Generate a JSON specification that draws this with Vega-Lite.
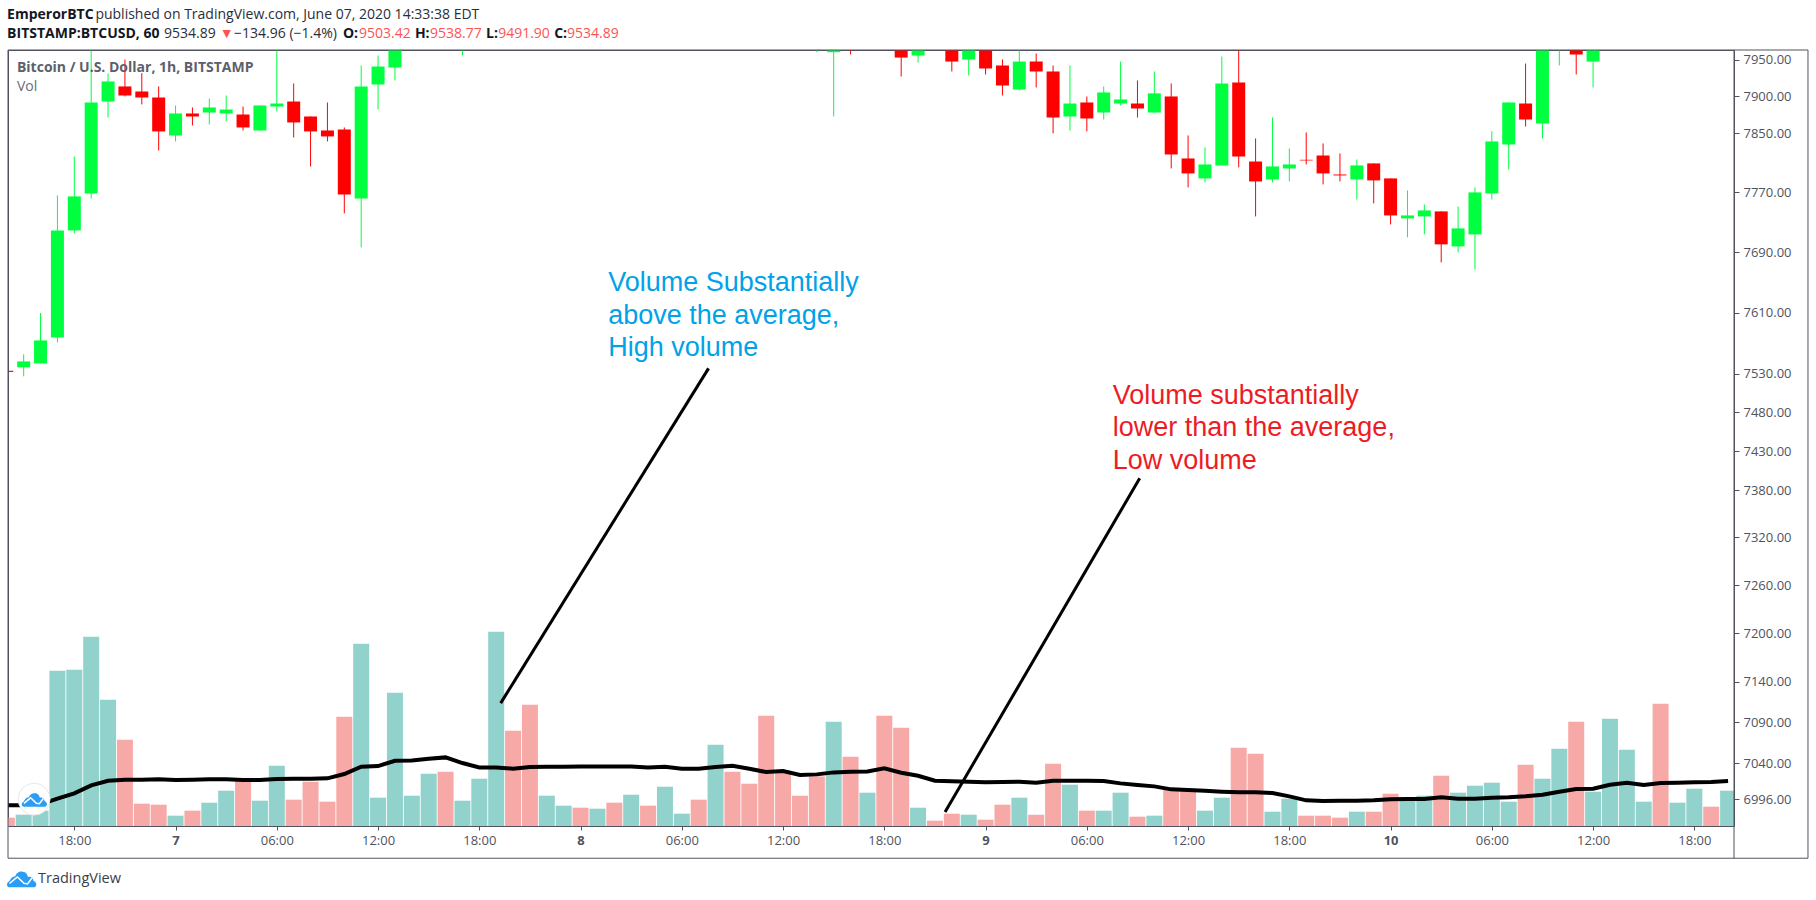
{
  "$schema": "https://vega.github.io/schema/vega-lite/v6.json",
  "autosize": {"type": "none"},
  "padding": {"left": 8, "top": 50, "right": 82, "bottom": 74},
  "width": 1726,
  "height": 776,
  "background": "white",
  "view": {"stroke": "#50535e", "strokeWidth": 1},
  "config": {"font": "Open Sans", "axis": {"grid": false, "title": null}},
  "datasets": {
    "volume": [
      {"time":"2020-06-06T14:00Z","volume":25,"ma":62,"dir":"down"},
      {"time":"2020-06-06T15:00Z","volume":34,"ma":62,"dir":"up"},
      {"time":"2020-06-06T16:00Z","volume":46,"ma":65,"dir":"up"},
      {"time":"2020-06-06T17:00Z","volume":466,"ma":82,"dir":"up"},
      {"time":"2020-06-06T18:00Z","volume":469,"ma":98,"dir":"up"},
      {"time":"2020-06-06T19:00Z","volume":568,"ma":122,"dir":"up"},
      {"time":"2020-06-06T20:00Z","volume":379,"ma":136,"dir":"up"},
      {"time":"2020-06-06T21:00Z","volume":259,"ma":139,"dir":"down"},
      {"time":"2020-06-06T22:00Z","volume":67,"ma":139,"dir":"down"},
      {"time":"2020-06-06T23:00Z","volume":64,"ma":140,"dir":"down"},
      {"time":"2020-06-07T00:00Z","volume":31,"ma":138,"dir":"up"},
      {"time":"2020-06-07T01:00Z","volume":46,"ma":139,"dir":"down"},
      {"time":"2020-06-07T02:00Z","volume":70,"ma":140,"dir":"up"},
      {"time":"2020-06-07T03:00Z","volume":106,"ma":140,"dir":"up"},
      {"time":"2020-06-07T04:00Z","volume":139,"ma":138,"dir":"down"},
      {"time":"2020-06-07T05:00Z","volume":76,"ma":138,"dir":"up"},
      {"time":"2020-06-07T06:00Z","volume":181,"ma":141,"dir":"up"},
      {"time":"2020-06-07T07:00Z","volume":79,"ma":142,"dir":"down"},
      {"time":"2020-06-07T08:00Z","volume":133,"ma":142,"dir":"down"},
      {"time":"2020-06-07T09:00Z","volume":73,"ma":143,"dir":"down"},
      {"time":"2020-06-07T10:00Z","volume":328,"ma":156,"dir":"down"},
      {"time":"2020-06-07T11:00Z","volume":547,"ma":178,"dir":"up"},
      {"time":"2020-06-07T12:00Z","volume":85,"ma":180,"dir":"up"},
      {"time":"2020-06-07T13:00Z","volume":400,"ma":196,"dir":"up"},
      {"time":"2020-06-07T14:00Z","volume":91,"ma":197,"dir":"up"},
      {"time":"2020-06-07T15:00Z","volume":157,"ma":202,"dir":"up"},
      {"time":"2020-06-07T16:00Z","volume":163,"ma":206,"dir":"down"},
      {"time":"2020-06-07T17:00Z","volume":76,"ma":189,"dir":"up"},
      {"time":"2020-06-07T18:00Z","volume":142,"ma":176,"dir":"up"},
      {"time":"2020-06-07T19:00Z","volume":583,"ma":176,"dir":"up"},
      {"time":"2020-06-07T20:00Z","volume":286,"ma":172,"dir":"down"},
      {"time":"2020-06-07T21:00Z","volume":364,"ma":177,"dir":"down"},
      {"time":"2020-06-07T22:00Z","volume":91,"ma":178,"dir":"up"},
      {"time":"2020-06-07T23:00Z","volume":61,"ma":178,"dir":"up"},
      {"time":"2020-06-08T00:00Z","volume":55,"ma":179,"dir":"down"},
      {"time":"2020-06-08T01:00Z","volume":52,"ma":179,"dir":"up"},
      {"time":"2020-06-08T02:00Z","volume":70,"ma":179,"dir":"down"},
      {"time":"2020-06-08T03:00Z","volume":94,"ma":179,"dir":"up"},
      {"time":"2020-06-08T04:00Z","volume":61,"ma":176,"dir":"down"},
      {"time":"2020-06-08T05:00Z","volume":118,"ma":178,"dir":"up"},
      {"time":"2020-06-08T06:00Z","volume":37,"ma":172,"dir":"up"},
      {"time":"2020-06-08T07:00Z","volume":79,"ma":172,"dir":"down"},
      {"time":"2020-06-08T08:00Z","volume":244,"ma":177,"dir":"up"},
      {"time":"2020-06-08T09:00Z","volume":163,"ma":181,"dir":"down"},
      {"time":"2020-06-08T10:00Z","volume":127,"ma":172,"dir":"down"},
      {"time":"2020-06-08T11:00Z","volume":331,"ma":162,"dir":"down"},
      {"time":"2020-06-08T12:00Z","volume":161,"ma":165,"dir":"down"},
      {"time":"2020-06-08T13:00Z","volume":91,"ma":153,"dir":"down"},
      {"time":"2020-06-08T14:00Z","volume":149,"ma":155,"dir":"down"},
      {"time":"2020-06-08T15:00Z","volume":313,"ma":161,"dir":"up"},
      {"time":"2020-06-08T16:00Z","volume":208,"ma":163,"dir":"down"},
      {"time":"2020-06-08T17:00Z","volume":100,"ma":164,"dir":"up"},
      {"time":"2020-06-08T18:00Z","volume":331,"ma":173,"dir":"down"},
      {"time":"2020-06-08T19:00Z","volume":295,"ma":160,"dir":"down"},
      {"time":"2020-06-08T20:00Z","volume":55,"ma":151,"dir":"up"},
      {"time":"2020-06-08T21:00Z","volume":16,"ma":136,"dir":"down"},
      {"time":"2020-06-08T22:00Z","volume":37,"ma":134,"dir":"down"},
      {"time":"2020-06-08T23:00Z","volume":34,"ma":133,"dir":"up"},
      {"time":"2020-06-09T00:00Z","volume":19,"ma":131,"dir":"down"},
      {"time":"2020-06-09T01:00Z","volume":64,"ma":132,"dir":"down"},
      {"time":"2020-06-09T02:00Z","volume":85,"ma":133,"dir":"up"},
      {"time":"2020-06-09T03:00Z","volume":34,"ma":130,"dir":"down"},
      {"time":"2020-06-09T04:00Z","volume":187,"ma":136,"dir":"down"},
      {"time":"2020-06-09T05:00Z","volume":124,"ma":136,"dir":"up"},
      {"time":"2020-06-09T06:00Z","volume":46,"ma":136,"dir":"down"},
      {"time":"2020-06-09T07:00Z","volume":46,"ma":135,"dir":"up"},
      {"time":"2020-06-09T08:00Z","volume":100,"ma":128,"dir":"up"},
      {"time":"2020-06-09T09:00Z","volume":28,"ma":123,"dir":"down"},
      {"time":"2020-06-09T10:00Z","volume":31,"ma":119,"dir":"up"},
      {"time":"2020-06-09T11:00Z","volume":109,"ma":110,"dir":"down"},
      {"time":"2020-06-09T12:00Z","volume":109,"ma":108,"dir":"down"},
      {"time":"2020-06-09T13:00Z","volume":46,"ma":106,"dir":"up"},
      {"time":"2020-06-09T14:00Z","volume":85,"ma":103,"dir":"up"},
      {"time":"2020-06-09T15:00Z","volume":235,"ma":101,"dir":"down"},
      {"time":"2020-06-09T16:00Z","volume":217,"ma":101,"dir":"down"},
      {"time":"2020-06-09T17:00Z","volume":43,"ma":99,"dir":"up"},
      {"time":"2020-06-09T18:00Z","volume":82,"ma":89,"dir":"up"},
      {"time":"2020-06-09T19:00Z","volume":31,"ma":77,"dir":"down"},
      {"time":"2020-06-09T20:00Z","volume":31,"ma":75,"dir":"down"},
      {"time":"2020-06-09T21:00Z","volume":25,"ma":76,"dir":"down"},
      {"time":"2020-06-09T22:00Z","volume":43,"ma":76,"dir":"up"},
      {"time":"2020-06-09T23:00Z","volume":43,"ma":77,"dir":"down"},
      {"time":"2020-06-10T00:00Z","volume":97,"ma":80,"dir":"down"},
      {"time":"2020-06-10T01:00Z","volume":82,"ma":81,"dir":"up"},
      {"time":"2020-06-10T02:00Z","volume":91,"ma":81,"dir":"up"},
      {"time":"2020-06-10T03:00Z","volume":151,"ma":86,"dir":"down"},
      {"time":"2020-06-10T04:00Z","volume":100,"ma":82,"dir":"up"},
      {"time":"2020-06-10T05:00Z","volume":121,"ma":82,"dir":"up"},
      {"time":"2020-06-10T06:00Z","volume":130,"ma":85,"dir":"up"},
      {"time":"2020-06-10T07:00Z","volume":73,"ma":86,"dir":"up"},
      {"time":"2020-06-10T08:00Z","volume":184,"ma":89,"dir":"down"},
      {"time":"2020-06-10T09:00Z","volume":142,"ma":94,"dir":"up"},
      {"time":"2020-06-10T10:00Z","volume":232,"ma":103,"dir":"up"},
      {"time":"2020-06-10T11:00Z","volume":313,"ma":111,"dir":"down"},
      {"time":"2020-06-10T12:00Z","volume":103,"ma":112,"dir":"up"},
      {"time":"2020-06-10T13:00Z","volume":322,"ma":124,"dir":"up"},
      {"time":"2020-06-10T14:00Z","volume":229,"ma":130,"dir":"up"},
      {"time":"2020-06-10T15:00Z","volume":73,"ma":123,"dir":"up"},
      {"time":"2020-06-10T16:00Z","volume":367,"ma":129,"dir":"down"},
      {"time":"2020-06-10T17:00Z","volume":70,"ma":130,"dir":"up"},
      {"time":"2020-06-10T18:00Z","volume":112,"ma":131,"dir":"up"},
      {"time":"2020-06-10T19:00Z","volume":58,"ma":132,"dir":"down"},
      {"time":"2020-06-10T20:00Z","volume":106,"ma":135,"dir":"up"}
    ],
    "candles": [
      {"time":"2020-06-06T14:00Z","open":7534,"high":7534,"low":7532.5,"close":7532.5,"dir":"down"},
      {"time":"2020-06-06T15:00Z","open":7538.5,"high":7555.4,"low":7526.8,"close":7546.2,"dir":"up"},
      {"time":"2020-06-06T16:00Z","open":7543.6,"high":7609.6,"low":7543.6,"close":7573.6,"dir":"up"},
      {"time":"2020-06-06T17:00Z","open":7577.6,"high":7765.8,"low":7571,"close":7719,"dir":"up"},
      {"time":"2020-06-06T18:00Z","open":7719,"high":7818.3,"low":7715,"close":7764.5,"dir":"up"},
      {"time":"2020-06-06T19:00Z","open":7768.5,"high":7985,"low":7761.8,"close":7891.6,"dir":"up"},
      {"time":"2020-06-06T20:00Z","open":7892.9,"high":7931.2,"low":7871.1,"close":7920.3,"dir":"up"},
      {"time":"2020-06-06T21:00Z","open":7913.5,"high":7950.4,"low":7899.8,"close":7901.1,"dir":"down"},
      {"time":"2020-06-06T22:00Z","open":7906.6,"high":7931.7,"low":7888.9,"close":7898.4,"dir":"down"},
      {"time":"2020-06-06T23:00Z","open":7898.4,"high":7913.5,"low":7826.4,"close":7852.2,"dir":"down"},
      {"time":"2020-06-07T00:00Z","open":7846.7,"high":7887.5,"low":7838.6,"close":7876.6,"dir":"up"},
      {"time":"2020-06-07T01:00Z","open":7876.6,"high":7884.8,"low":7860.3,"close":7872.5,"dir":"down"},
      {"time":"2020-06-07T02:00Z","open":7877.9,"high":7897,"low":7861.7,"close":7884.8,"dir":"up"},
      {"time":"2020-06-07T03:00Z","open":7876.6,"high":7901.1,"low":7865.7,"close":7882,"dir":"up"},
      {"time":"2020-06-07T04:00Z","open":7875.2,"high":7886.1,"low":7853.5,"close":7857.6,"dir":"down"},
      {"time":"2020-06-07T05:00Z","open":7853.5,"high":7887.5,"low":7853.5,"close":7887.5,"dir":"up"},
      {"time":"2020-06-07T06:00Z","open":7886.1,"high":7985,"low":7879.3,"close":7890.2,"dir":"up"},
      {"time":"2020-06-07T07:00Z","open":7892.9,"high":7917.6,"low":7844,"close":7864.4,"dir":"down"},
      {"time":"2020-06-07T08:00Z","open":7872.5,"high":7872.5,"low":7804.8,"close":7852.2,"dir":"down"},
      {"time":"2020-06-07T09:00Z","open":7853.5,"high":7891.6,"low":7838.6,"close":7845.4,"dir":"down"},
      {"time":"2020-06-07T10:00Z","open":7854.9,"high":7857.6,"low":7741.7,"close":7767.2,"dir":"down"},
      {"time":"2020-06-07T11:00Z","open":7761.8,"high":7942.2,"low":7696.4,"close":7913.5,"dir":"up"},
      {"time":"2020-06-07T12:00Z","open":7916.2,"high":7955.9,"low":7882,"close":7940.8,"dir":"up"},
      {"time":"2020-06-07T13:00Z","open":7939.4,"high":7990,"low":7921.7,"close":7975,"dir":"up"},
      {"time":"2020-06-07T17:00Z","open":7985,"high":8030,"low":7955.9,"close":8005,"dir":"up"},
      {"time":"2020-06-08T14:00Z","open":7985,"high":8000,"low":7960.5,"close":7995,"dir":"up"},
      {"time":"2020-06-08T15:00Z","open":7960.5,"high":7990,"low":7872.5,"close":7985,"dir":"up"},
      {"time":"2020-06-08T16:00Z","open":7985,"high":7990,"low":7957.3,"close":7975,"dir":"down"},
      {"time":"2020-06-08T19:00Z","open":7985,"high":7990,"low":7927.1,"close":7953.1,"dir":"down"},
      {"time":"2020-06-08T20:00Z","open":7955.9,"high":7990,"low":7946.3,"close":7985,"dir":"up"},
      {"time":"2020-06-08T22:00Z","open":7985,"high":7990,"low":7934,"close":7947.6,"dir":"down"},
      {"time":"2020-06-08T23:00Z","open":7950.4,"high":7990,"low":7928.5,"close":7985,"dir":"up"},
      {"time":"2020-06-09T00:00Z","open":7985,"high":7990,"low":7929.9,"close":7938.1,"dir":"down"},
      {"time":"2020-06-09T01:00Z","open":7942.2,"high":7950.4,"low":7901.1,"close":7914.8,"dir":"down"},
      {"time":"2020-06-09T02:00Z","open":7909.3,"high":7975,"low":7908,"close":7947.6,"dir":"up"},
      {"time":"2020-06-09T03:00Z","open":7947.6,"high":7958.7,"low":7912.1,"close":7934,"dir":"down"},
      {"time":"2020-06-09T04:00Z","open":7934,"high":7942.2,"low":7849.5,"close":7871.1,"dir":"down"},
      {"time":"2020-06-09T05:00Z","open":7872.5,"high":7942.2,"low":7853.5,"close":7890.2,"dir":"up"},
      {"time":"2020-06-09T06:00Z","open":7891.6,"high":7899.8,"low":7852.2,"close":7869.8,"dir":"down"},
      {"time":"2020-06-09T07:00Z","open":7877.9,"high":7913.5,"low":7868.4,"close":7905.3,"dir":"up"},
      {"time":"2020-06-09T08:00Z","open":7890.2,"high":7947.6,"low":7887.5,"close":7895.7,"dir":"up"},
      {"time":"2020-06-09T09:00Z","open":7890.2,"high":7921.7,"low":7871.1,"close":7883.4,"dir":"down"},
      {"time":"2020-06-09T10:00Z","open":7877.9,"high":7934,"low":7877.9,"close":7904,"dir":"up"},
      {"time":"2020-06-09T11:00Z","open":7899.8,"high":7917.6,"low":7802.1,"close":7821,"dir":"down"},
      {"time":"2020-06-09T12:00Z","open":7815.6,"high":7846.7,"low":7776.6,"close":7795.4,"dir":"down"},
      {"time":"2020-06-09T13:00Z","open":7788.7,"high":7830.5,"low":7783.3,"close":7807.5,"dir":"up"},
      {"time":"2020-06-09T14:00Z","open":7806.2,"high":7954.5,"low":7806.2,"close":7917.6,"dir":"up"},
      {"time":"2020-06-09T15:00Z","open":7918.9,"high":7975,"low":7803.5,"close":7818.3,"dir":"down"},
      {"time":"2020-06-09T16:00Z","open":7811.5,"high":7842.7,"low":7737.7,"close":7784.6,"dir":"down"},
      {"time":"2020-06-09T17:00Z","open":7787.3,"high":7871.1,"low":7783.3,"close":7804.8,"dir":"up"},
      {"time":"2020-06-09T18:00Z","open":7802.1,"high":7829.1,"low":7784.6,"close":7807.5,"dir":"up"},
      {"time":"2020-06-09T19:00Z","open":7813.8,"high":7850.8,"low":7807.5,"close":7812.9,"dir":"down"},
      {"time":"2020-06-09T20:00Z","open":7819.6,"high":7835.9,"low":7780.6,"close":7795.4,"dir":"down"},
      {"time":"2020-06-09T21:00Z","open":7794,"high":7822.4,"low":7784.6,"close":7792.7,"dir":"down"},
      {"time":"2020-06-09T22:00Z","open":7787.3,"high":7814.2,"low":7760.4,"close":7806.2,"dir":"up"},
      {"time":"2020-06-09T23:00Z","open":7808.9,"high":7808.9,"low":7755.1,"close":7786,"dir":"down"},
      {"time":"2020-06-10T00:00Z","open":7788.7,"high":7788.7,"low":7727,"close":7739,"dir":"down"},
      {"time":"2020-06-10T01:00Z","open":7735,"high":7772.5,"low":7709.7,"close":7739,"dir":"up"},
      {"time":"2020-06-10T02:00Z","open":7737.7,"high":7753.7,"low":7713.7,"close":7745.7,"dir":"up"},
      {"time":"2020-06-10T03:00Z","open":7744.4,"high":7744.4,"low":7676.4,"close":7700.4,"dir":"down"},
      {"time":"2020-06-10T04:00Z","open":7697.7,"high":7751,"low":7689.7,"close":7721.7,"dir":"up"},
      {"time":"2020-06-10T05:00Z","open":7713.7,"high":7776.6,"low":7667.1,"close":7769.9,"dir":"up"},
      {"time":"2020-06-10T06:00Z","open":7768.5,"high":7852.2,"low":7760.4,"close":7838.6,"dir":"up"},
      {"time":"2020-06-10T07:00Z","open":7834.5,"high":7891.6,"low":7800.8,"close":7891.6,"dir":"up"},
      {"time":"2020-06-10T08:00Z","open":7890.2,"high":7944.9,"low":7858.9,"close":7868.4,"dir":"down"},
      {"time":"2020-06-10T09:00Z","open":7863,"high":7990,"low":7842.7,"close":7985,"dir":"up"},
      {"time":"2020-06-10T10:00Z","open":7985,"high":7995,"low":7942.2,"close":7990,"dir":"up"},
      {"time":"2020-06-10T11:00Z","open":7985,"high":7990,"low":7929.9,"close":7957.3,"dir":"down"},
      {"time":"2020-06-10T12:00Z","open":7947.6,"high":7990,"low":7912.1,"close":7985,"dir":"up"}
    ],
    "pointers": [
      {"line":"high","time":"2020-06-08T07:35Z","price":7537.1},
      {"line":"high","time":"2020-06-07T19:16Z","price":7113.4},
      {"line":"low","time":"2020-06-09T09:08Z","price":7395.3},
      {"line":"low","time":"2020-06-08T21:36Z","price":6980.7}
    ],
    "labels": [
      {"role":"bold","text":"EmperorBTC","time":"2020-06-06T14:01Z","price":8012.5},
      {"role":"bold","text":"BITSTAMP:BTCUSD, 60","time":"2020-06-06T14:01Z","price":7986.2},
      {"role":"bold","text":"O:","time":"2020-06-07T09:55Z","price":7986.2},
      {"role":"bold","text":"H:","time":"2020-06-07T14:11Z","price":7986.2},
      {"role":"bold","text":"L:","time":"2020-06-07T18:24Z","price":7986.2},
      {"role":"bold","text":"C:","time":"2020-06-07T22:26Z","price":7986.2},
      {"role":"plain","text":"published on TradingView.com, June 07, 2020 14:33:38 EDT","time":"2020-06-06T19:15Z","price":8012.5},
      {"role":"plain","text":"9534.89","time":"2020-06-06T23:19Z","price":7986.2},
      {"role":"plain","text":"−134.96 (−1.4%)","time":"2020-06-07T03:28Z","price":7986.2},
      {"role":"value","text":"▼","time":"2020-06-07T02:37Z","price":7986.2},
      {"role":"value","text":"9503.42","time":"2020-06-07T10:52Z","price":7986.2},
      {"role":"value","text":"9538.77","time":"2020-06-07T15:05Z","price":7986.2},
      {"role":"value","text":"9491.90","time":"2020-06-07T19:07Z","price":7986.2},
      {"role":"value","text":"9534.89","time":"2020-06-07T23:12Z","price":7986.2},
      {"role":"pane","text":"Bitcoin / U.S. Dollar, 1h, BITSTAMP","time":"2020-06-06T14:36Z","price":7938.1},
      {"role":"study","text":"Vol","time":"2020-06-06T14:36Z","price":7912.1},
      {"role":"brand","text":"TradingView","time":"2020-06-06T15:51Z","price":6900.4},
      {"role":"high","text":"Volume Substantially","time":"2020-06-08T01:38Z","price":7648.7},
      {"role":"high","text":"above the average,","time":"2020-06-08T01:38Z","price":7605.8},
      {"role":"high","text":"High volume","time":"2020-06-08T01:38Z","price":7564},
      {"role":"low","text":"Volume substantially","time":"2020-06-09T07:32Z","price":7500.8},
      {"role":"low","text":"lower than the average,","time":"2020-06-09T07:32Z","price":7459.6},
      {"role":"low","text":"Low volume","time":"2020-06-09T07:32Z","price":7417.1}
    ]
  },
  "encoding": {
    "x": {
      "field": "time",
      "type": "temporal",
      "scale": {"type": "utc", "padding": 0, "domain": [
        {"year": 2020, "month": 6, "date": 6, "hours": 14, "minutes": 4, "seconds": 15, "utc": true},
        {"year": 2020, "month": 6, "date": 10, "hours": 20, "minutes": 21, "utc": true}
      ]},
      "axis": {
        "values": [
          {"year": 2020, "month": 6, "date": 6, "hours": 18, "utc": true},
          {"year": 2020, "month": 6, "date": 7, "hours": 0, "utc": true},
          {"year": 2020, "month": 6, "date": 7, "hours": 6, "utc": true},
          {"year": 2020, "month": 6, "date": 7, "hours": 12, "utc": true},
          {"year": 2020, "month": 6, "date": 7, "hours": 18, "utc": true},
          {"year": 2020, "month": 6, "date": 8, "hours": 0, "utc": true},
          {"year": 2020, "month": 6, "date": 8, "hours": 6, "utc": true},
          {"year": 2020, "month": 6, "date": 8, "hours": 12, "utc": true},
          {"year": 2020, "month": 6, "date": 8, "hours": 18, "utc": true},
          {"year": 2020, "month": 6, "date": 9, "hours": 0, "utc": true},
          {"year": 2020, "month": 6, "date": 9, "hours": 6, "utc": true},
          {"year": 2020, "month": 6, "date": 9, "hours": 12, "utc": true},
          {"year": 2020, "month": 6, "date": 9, "hours": 18, "utc": true},
          {"year": 2020, "month": 6, "date": 10, "hours": 0, "utc": true},
          {"year": 2020, "month": 6, "date": 10, "hours": 6, "utc": true},
          {"year": 2020, "month": 6, "date": 10, "hours": 12, "utc": true},
          {"year": 2020, "month": 6, "date": 10, "hours": 18, "utc": true}
        ],
        "labelExpr": "utchours(datum.value)===0 ? utcFormat(datum.value,'%-d') : utcFormat(datum.value,'%H:%M')",
        "labelFontWeight": {"condition": {"test": "utchours(datum.value)===0", "value": "bold"}, "value": "normal"},
        "labelColor": "#50535e",
        "labelFontSize": 13,
        "labelPadding": 4,
        "labelOverlap": false,
        "labelFlush": false,
        "labelBound": false,
        "tickColor": "#50535e",
        "tickSize": 4,
        "domain": false
      }
    }
  },
  "resolve": {"scale": {"y": "independent", "color": "independent"}},
  "layer": [
    {
      "data": {"name": "volume"},
      "layer": [
        {
          "mark": {"type": "bar", "size": 16, "clip": true},
          "encoding": {
            "y": {"field": "volume", "type": "quantitative", "scale": {"domain": [0, 2330]}, "axis": null},
            "color": {"field": "dir", "type": "nominal", "scale": {"domain": ["up", "down"], "range": ["#92d2cc", "#f7a9a7"]}, "legend": null}
          }
        },
        {
          "mark": {"type": "line", "color": "black", "strokeWidth": 4, "clip": true},
          "encoding": {
            "y": {"field": "ma", "type": "quantitative", "scale": {"domain": [0, 2330]}, "axis": null}
          }
        }
      ]
    },
    {
      "layer": [
        {
          "data": {"name": "candles"},
          "mark": {"type": "rule", "strokeWidth": 1, "clip": true},
          "encoding": {
            "y": {
              "field": "low",
              "type": "quantitative",
              "scale": {"type": "log", "domain": [6963.9, 7963.5], "nice": false},
              "axis": {
                "orient": "right",
                "values": [7950, 7900, 7850, 7770, 7690, 7610, 7530, 7480, 7430, 7380, 7320, 7260, 7200, 7140, 7090, 7040, 6996],
                "format": ".2f",
                "labelColor": "#50535e",
                "labelFontSize": 13,
                "labelPadding": 4,
                "tickColor": "#50535e",
                "tickSize": 5,
                "domain": false
              }
            },
            "y2": {"field": "high"},
            "color": {"field": "dir", "type": "nominal", "scale": {"domain": ["up", "down"], "range": ["#00ff3f", "#ff0000"]}, "legend": null}
          }
        },
        {
          "data": {"name": "candles"},
          "mark": {"type": "bar", "size": 13, "clip": true},
          "encoding": {
            "y": {"field": "open", "type": "quantitative", "scale": {"type": "log", "domain": [6963.9, 7963.5], "nice": false}},
            "y2": {"field": "close"},
            "color": {"field": "dir", "type": "nominal", "scale": {"domain": ["up", "down"], "range": ["#00ff3f", "#ff0000"]}, "legend": null}
          }
        },
        {
          "data": {"name": "pointers"},
          "mark": {"type": "line", "color": "black", "strokeWidth": 3},
          "encoding": {
            "y": {"field": "price", "type": "quantitative", "scale": {"type": "log", "domain": [6963.9, 7963.5], "nice": false}},
            "detail": {"field": "line"}
          }
        },
        {
          "data": {"values": [{"time": "2020-06-06T14:04:15Z", "end": "2020-06-11T00:44Z", "top": 7963.5, "bottom": 6925.2}]},
          "mark": {"type": "rect", "fillOpacity": 0, "stroke": "#50535e", "strokeWidth": 1},
          "encoding": {
            "x2": {"field": "end"},
            "y": {"field": "top", "type": "quantitative", "scale": {"type": "log", "domain": [6963.9, 7963.5], "nice": false}},
            "y2": {"field": "bottom"}
          }
        },
        {
          "data": {"values": [{"time": "2020-06-10T20:21Z", "top": 7963.5, "bottom": 6925.2}]},
          "mark": {"type": "rule", "color": "#50535e", "strokeWidth": 1},
          "encoding": {
            "y": {"field": "top", "type": "quantitative", "scale": {"type": "log", "domain": [6963.9, 7963.5], "nice": false}},
            "y2": {"field": "bottom"}
          }
        },
        {
          "data": {"values": [{"time": "2020-06-06T15:37Z", "price": 6996.3}]},
          "mark": {"type": "point", "shape": "circle", "filled": true, "fill": "white", "stroke": "#e8e8e8", "strokeWidth": 1, "opacity": 1, "size": 1018},
          "encoding": {
            "y": {"field": "price", "type": "quantitative", "scale": {"type": "log", "domain": [6963.9, 7963.5], "nice": false}}
          }
        },
        {
          "data": {"values": [{"time": "2020-06-06T15:38Z", "price": 6995.5}]},
          "layer": [
            {
              "mark": {"type": "point", "shape": "M-0.42,0.28 C-0.52,0.28 -0.55,0.12 -0.42,0.06 C-0.38,-0.02 -0.32,-0.1 -0.22,-0.1 C-0.2,-0.2 -0.08,-0.28 0.03,-0.26 C0.15,-0.26 0.2,-0.15 0.22,-0.08 C0.32,-0.12 0.42,-0.02 0.4,0.05 C0.55,0.1 0.52,0.28 0.42,0.28 Z", "filled": true, "fill": "#2a9df4", "opacity": 1, "size": 2500},
              "encoding": {"y": {"field": "price", "type": "quantitative", "scale": {"type": "log", "domain": [6963.9, 7963.5], "nice": false}}}
            },
            {
              "mark": {"type": "point", "shape": "M-0.42,0.14 L-0.15,-0.08 L0.08,0.14 L0.2,0.16 L0.36,-0.05", "filled": false, "stroke": "white", "strokeWidth": 1.5, "opacity": 1, "size": 2500},
              "encoding": {"y": {"field": "price", "type": "quantitative", "scale": {"type": "log", "domain": [6963.9, 7963.5], "nice": false}}}
            }
          ]
        },
        {
          "data": {"values": [{"time": "2020-06-06T14:53Z", "price": 6900.1}]},
          "layer": [
            {
              "mark": {"type": "point", "shape": "M-0.42,0.28 C-0.52,0.28 -0.55,0.12 -0.42,0.06 C-0.38,-0.02 -0.32,-0.1 -0.22,-0.1 C-0.2,-0.2 -0.08,-0.28 0.03,-0.26 C0.15,-0.26 0.2,-0.15 0.22,-0.08 C0.32,-0.12 0.42,-0.02 0.4,0.05 C0.55,0.1 0.52,0.28 0.42,0.28 Z", "filled": true, "fill": "#2a9df4", "opacity": 1, "size": 3364},
              "encoding": {"y": {"field": "price", "type": "quantitative", "scale": {"type": "log", "domain": [6963.9, 7963.5], "nice": false}}}
            },
            {
              "mark": {"type": "point", "shape": "M-0.42,0.14 L-0.15,-0.08 L0.08,0.14 L0.2,0.16 L0.36,-0.05", "filled": false, "stroke": "white", "strokeWidth": 1.5, "opacity": 1, "size": 3364},
              "encoding": {"y": {"field": "price", "type": "quantitative", "scale": {"type": "log", "domain": [6963.9, 7963.5], "nice": false}}}
            }
          ]
        },
        {
          "data": {"name": "labels"},
          "transform": [{"filter": "datum.role === 'bold'"}],
          "mark": {"type": "text", "align": "left", "baseline": "middle", "fontSize": 14, "fontWeight": "bold", "color": "#131722"},
          "encoding": {
            "y": {"field": "price", "type": "quantitative", "scale": {"type": "log", "domain": [6963.9, 7963.5], "nice": false}},
            "text": {"field": "text"}
          }
        },
        {
          "data": {"name": "labels"},
          "transform": [{"filter": "datum.role === 'plain'"}],
          "mark": {"type": "text", "align": "left", "baseline": "middle", "fontSize": 14, "color": "#2a2e39"},
          "encoding": {
            "y": {"field": "price", "type": "quantitative", "scale": {"type": "log", "domain": [6963.9, 7963.5], "nice": false}},
            "text": {"field": "text"}
          }
        },
        {
          "data": {"name": "labels"},
          "transform": [{"filter": "datum.role === 'value'"}],
          "mark": {"type": "text", "align": "left", "baseline": "middle", "fontSize": 14, "color": "#ff5252"},
          "encoding": {
            "y": {"field": "price", "type": "quantitative", "scale": {"type": "log", "domain": [6963.9, 7963.5], "nice": false}},
            "text": {"field": "text"}
          }
        },
        {
          "data": {"name": "labels"},
          "transform": [{"filter": "datum.role === 'pane'"}],
          "mark": {"type": "text", "align": "left", "baseline": "middle", "fontSize": 14, "fontWeight": "bold", "color": "#5d606b"},
          "encoding": {
            "y": {"field": "price", "type": "quantitative", "scale": {"type": "log", "domain": [6963.9, 7963.5], "nice": false}},
            "text": {"field": "text"}
          }
        },
        {
          "data": {"name": "labels"},
          "transform": [{"filter": "datum.role === 'study'"}],
          "mark": {"type": "text", "align": "left", "baseline": "middle", "fontSize": 14, "color": "#6a6d78"},
          "encoding": {
            "y": {"field": "price", "type": "quantitative", "scale": {"type": "log", "domain": [6963.9, 7963.5], "nice": false}},
            "text": {"field": "text"}
          }
        },
        {
          "data": {"name": "labels"},
          "transform": [{"filter": "datum.role === 'brand'"}],
          "mark": {"type": "text", "align": "left", "baseline": "middle", "fontSize": 14.5, "color": "#3a3e49"},
          "encoding": {
            "y": {"field": "price", "type": "quantitative", "scale": {"type": "log", "domain": [6963.9, 7963.5], "nice": false}},
            "text": {"field": "text"}
          }
        },
        {
          "data": {"name": "labels"},
          "transform": [{"filter": "datum.role === 'high'"}],
          "mark": {"type": "text", "align": "left", "baseline": "middle", "font": "Liberation Sans", "fontSize": 27, "color": "#00a2e8"},
          "encoding": {
            "y": {"field": "price", "type": "quantitative", "scale": {"type": "log", "domain": [6963.9, 7963.5], "nice": false}},
            "text": {"field": "text"}
          }
        },
        {
          "data": {"name": "labels"},
          "transform": [{"filter": "datum.role === 'low'"}],
          "mark": {"type": "text", "align": "left", "baseline": "middle", "font": "Liberation Sans", "fontSize": 27, "color": "#ed1c24"},
          "encoding": {
            "y": {"field": "price", "type": "quantitative", "scale": {"type": "log", "domain": [6963.9, 7963.5], "nice": false}},
            "text": {"field": "text"}
          }
        }
      ]
    }
  ]
}
